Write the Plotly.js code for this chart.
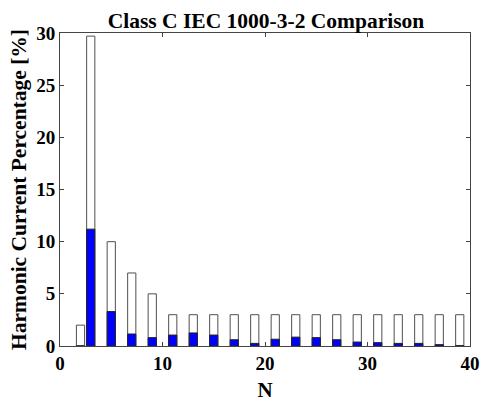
<!DOCTYPE html>
<html><head><meta charset="utf-8">
<script src="https://cdn.plot.ly/plotly-3.0.1.min.js"></script>
<style>html,body{margin:0;padding:0;background:#fff;}#chart{width:482px;height:403px;}</style>
</head><body><div id="chart"></div>
<script>
const harmonicOrder = [2,3,5,7,9,11,13,15,17,19,21,23,25,27,29,31,33,35,37,39];
const limitPercent = [2,29.7,10,7,5,3,3,3,3,3,3,3,3,3,3,3,3,3,3,3];
const measuredPercent = [0,11.2,3.3,1.15,0.8,1.05,1.25,1.05,0.6,0.25,0.65,0.85,0.8,0.6,0.38,0.32,0.25,0.25,0.13,0.02];
const xTicks = [0,10,20,30,40];
const yTicks = [0,5,10,15,20,25,30];

const serif = 'Liberation Serif, Times New Roman, serif';
const traces = [
  {type:'bar', x:harmonicOrder, y:limitPercent, width:0.8,
   marker:{color:'#ffffff', line:{color:'#505050', width:1}}, hoverinfo:'skip'},
  {type:'bar', x:harmonicOrder, y:measuredPercent, width:0.8,
   marker:{color:'#0000ff', line:{color:'#202020', width:1}}, hoverinfo:'skip'}
];
const layout = {
  width:482, height:403,
  margin:{l:60, r:12, t:33, b:57},
  paper_bgcolor:'#fff', plot_bgcolor:'#fff',
  barmode:'overlay', showlegend:false,
  title:{text:'<b>Class C IEC 1000-3-2 Comparison</b>', x:266/482, xanchor:'center', y:1-20/403, yanchor:'middle',
         font:{family:serif, size:21.5, color:'#000'}},
  xaxis:{range:[0,40], tickvals:xTicks, ticktext:xTicks.map(v=>'<b>'+v+'</b>'),
         ticks:'inside', ticklen:4, tickcolor:'#444', mirror:'ticks', showline:true, linecolor:'#444', linewidth:1,
         showgrid:false, zeroline:false,
         tickfont:{family:serif, size:19, color:'#000'},
         title:{text:'<b>N</b>', font:{family:serif, size:21, color:'#000'}, standoff:9}},
  yaxis:{range:[0,30], tickvals:yTicks, ticktext:yTicks.map(v=>'<b>'+v+'</b>'),
         ticks:'inside', ticklen:4, tickcolor:'#444', mirror:'ticks', showline:true, linecolor:'#444', linewidth:1,
         showgrid:false, zeroline:false,
         tickfont:{family:serif, size:19, color:'#000'},
         title:{text:'<b>Harmonic Current Percentage [%]</b>', font:{family:serif, size:21.5, color:'#000'}, standoff:3}}
};
Plotly.newPlot('chart', traces, layout, {displayModeBar:false, staticPlot:true});
</script></body></html>
